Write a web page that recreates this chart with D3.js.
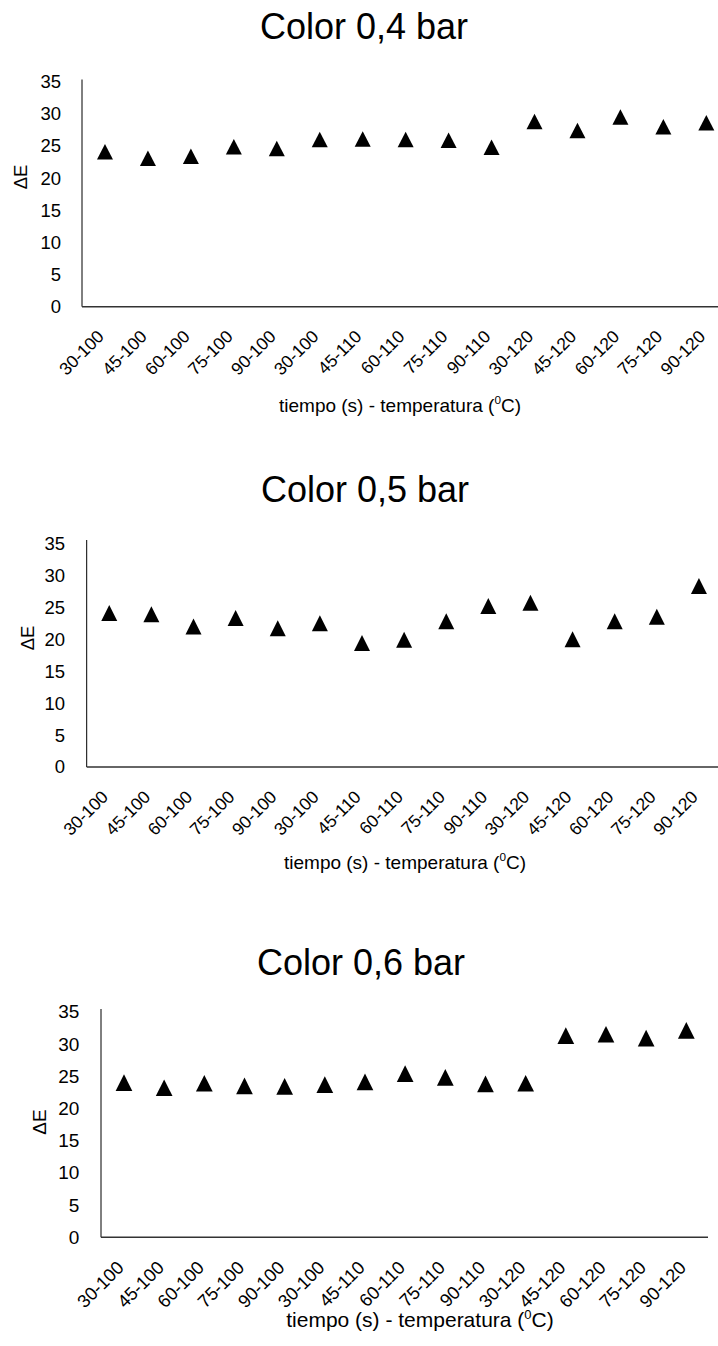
<!DOCTYPE html>
<html><head><meta charset="utf-8">
<script src="https://cdn.jsdelivr.net/npm/d3@7"></script>
<style>body{margin:0;background:#fff}svg{display:block}text{font-family:"Liberation Sans",Arial,sans-serif;fill:#000}</style>
</head><body>
<svg id="c" width="718" height="1346"></svg>
<script>
const categories = ["30-100","45-100","60-100","75-100","90-100","30-100","45-110","60-110","75-110","90-110","30-120","45-120","60-120","75-120","90-120"];
const yTicks = [0,5,10,15,20,25,30,35];
const values04 = [24.1,23.1,23.4,24.9,24.6,26.0,26.1,26.0,25.9,24.8,28.8,27.4,29.5,28.0,28.6];
const values05 = [24.1,23.9,22.0,23.3,21.7,22.5,19.4,19.9,22.8,25.2,25.7,20.0,22.8,23.5,28.3];
const values06 = [24.0,23.2,23.9,23.5,23.4,23.7,24.1,25.4,24.8,23.8,23.9,31.3,31.5,30.9,32.1];
const titles = ["Color 0,4 bar","Color 0,5 bar","Color 0,6 bar"];
const yTitle = "ΔE";
const xTitle = "tiempo (s) - temperatura (";

const layouts = [
  {vals:values04, ax:82, bx:[83.5,727.8], xEnd:718, y0:306.7, y35:81.7, yTop:79.5, tickR:61, yl:[21,177], tx:364, ty:39, xtx:400, xty:412, fs:18.5, xfs:17.5, lo:[0,31], xtfs:19, tri:[16,15.5]},
  {vals:values05, ax:86.7, bx:[88.2,720], xEnd:718, y0:767, y35:543.3, yTop:540, tickR:65, yl:[28,638], tx:365, ty:502, xtx:405, xty:869, fs:18.5, xfs:17.5, lo:[0,31], xtfs:19, tri:[16,16]},
  {vals:values06, ax:101, bx:[103.9,706.4], xEnd:708, y0:1237.3, y35:1011.7, yTop:1009, tickR:79.3, yl:[39.5,1122], tx:361, ty:975, xtx:420, xty:1327, fs:19, xfs:18.3, lo:[1,31.5], xtfs:21, tri:[16.7,16.7]}
];

const svg = d3.select("#c");
layouts.forEach((L,i)=>{
  const g = svg.append("g");
  const idx = d3.range(categories.length);
  const x = d3.scaleBand().domain(idx).range(L.bx);
  const cx = j => x(j) + x.bandwidth()/2;
  const y = d3.scaleLinear().domain([0,35]).range([L.y0,L.y35]);
  g.append("text").attr("x",L.tx).attr("y",L.ty).attr("text-anchor","middle").style("font-size","36px").text(titles[i]);
  g.selectAll(".yt").data(yTicks).join("text").attr("x",L.tickR).attr("y",d=>y(d)).attr("dy","0.35em")
    .attr("text-anchor","end").style("font-size",L.fs+"px").text(d=>d);
  g.append("line").attr("x1",L.ax).attr("x2",L.ax).attr("y1",L.yTop).attr("y2",y(0)).attr("stroke","#000").attr("stroke-width",1);
  g.append("line").attr("x1",L.ax).attr("x2",L.xEnd).attr("y1",y(0)).attr("y2",y(0)).attr("stroke","#333").attr("stroke-width",1.5);
  g.selectAll(".xt").data(idx).join("text")
    .attr("transform",j=>`translate(${cx(j)+L.lo[0]},${y(0)+L.lo[1]}) rotate(-45)`)
    .attr("text-anchor","end").style("font-size",L.xfs+"px").text(j=>categories[j]);
  g.append("text").attr("transform",`translate(${L.yl[0]},${L.yl[1]}) rotate(-90)`).attr("dy","0.35em")
    .attr("text-anchor","middle").style("font-size",L.fs+"px").text(yTitle);
  const t = g.append("text").attr("x",L.xtx).attr("y",L.xty).attr("text-anchor","middle").style("font-size",L.xtfs+"px");
  const sup = Math.round(L.xtfs*0.4);
  t.append("tspan").text(xTitle);
  t.append("tspan").attr("dy",-sup).style("font-size",(L.xtfs*0.62)+"px").text("0");
  t.append("tspan").attr("dy",sup).text("C)");
  const [w,h] = L.tri;
  const tri = {draw(ctx){ctx.moveTo(0,-h/2);ctx.lineTo(w/2,h/2);ctx.lineTo(-w/2,h/2);ctx.closePath();}};
  g.selectAll(".pt").data(L.vals).join("path")
    .attr("d",d3.symbol().type(tri)())
    .attr("transform",(d,j)=>`translate(${cx(j)},${y(d)})`)
    .attr("fill","#000");
});
</script>
</body></html>
